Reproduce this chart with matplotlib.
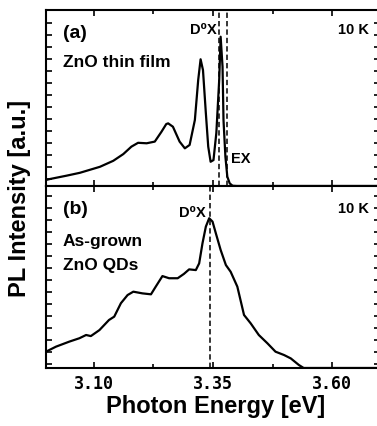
import numpy
import matplotlib
matplotlib.use('Agg')
from matplotlib import pyplot

FONT = ['Liberation Sans', 'DejaVu Sans']
matplotlib.rc('font', family=FONT, weight='bold')

# panel (a): ZnO thin film, 10 K
energy_a = [3.000, 3.008, 3.043, 3.071, 3.113, 3.141, 3.162, 3.179, 3.193, 3.211,
            3.228, 3.242, 3.252, 3.256, 3.266, 3.280, 3.291, 3.301, 3.312, 3.319,
            3.324, 3.329, 3.335, 3.340, 3.345, 3.351, 3.357, 3.363, 3.366, 3.370,
            3.372, 3.376, 3.380, 3.385, 3.391, 3.400, 3.700]
intens_a = [0.25, 0.29, 0.43, 0.55, 0.80, 1.05, 1.33, 1.64, 1.80, 1.78,
            1.85, 2.26, 2.58, 2.61, 2.47, 1.85, 1.57, 1.71, 2.75, 4.42,
            5.28, 4.83, 3.04, 1.64, 1.01, 1.08, 2.21, 4.42, 6.22, 4.97,
            2.75, 1.22, 0.39, 0.11, 0.01, 0.0, 0.0]
lines_a = [3.362, 3.379]   # D0X, EX

# panel (b): as-grown ZnO QDs, 10 K
energy_b = [3.000, 3.021, 3.049, 3.070, 3.084, 3.094, 3.112, 3.132, 3.143, 3.157,
            3.171, 3.183, 3.202, 3.220, 3.230, 3.244, 3.258, 3.276, 3.289, 3.300,
            3.314, 3.321, 3.328, 3.335, 3.342, 3.349, 3.356, 3.366, 3.377, 3.387,
            3.401, 3.415, 3.429, 3.446, 3.464, 3.481, 3.499, 3.513, 3.530, 3.540,
            3.700]
intens_b = [0.68, 0.89, 1.10, 1.24, 1.375, 1.33, 1.58, 2.00, 2.14, 2.70,
            3.04, 3.18, 3.11, 3.07, 3.39, 3.83, 3.74, 3.74, 3.92, 4.11,
            4.08, 4.36, 5.20, 5.89, 6.24, 6.10, 5.61, 4.92, 4.29, 4.01,
            3.39, 2.21, 1.86, 1.375, 1.03, 0.68, 0.54, 0.40, 0.125, 0.0,
            0.0]
lines_b = [3.343]          # D0X

xticks = [3.10, 3.35, 3.60]
xtick_labels = ['3.10', '3.35', '3.60']
xminor = [3.225, 3.475]

W, H = 377, 426


def fpos(x, y):
    # pixel position -> figure fraction
    return x / W, 1 - y / H


def style_axis(ax, ymax, yoff, labels):
    ax.set_xlim(3.0, 3.7)
    ax.set_ylim(0, ymax)
    ax.set_xticks(xticks)
    ax.set_xticklabels(xtick_labels)
    ax.set_xticks(xminor, minor=True)
    ax.set_yticks(numpy.arange(yoff, ymax - 0.3, 0.5))
    ax.tick_params(which='both', direction='in', top=True, right=True,
                   width=1.2, labelleft=False, labelbottom=labels)
    ax.tick_params(which='major', length=4.0, pad=5)
    ax.tick_params(which='minor', length=3.0)
    for s in ax.spines.values():
        s.set_linewidth(1.5)
    for lab in ax.get_xticklabels():
        lab.set_family('DejaVu Sans Mono')
        lab.set_fontweight('bold')
        lab.set_fontsize(12)


fig = pyplot.figure(figsize=(W / 100.0, H / 100.0), dpi=100)

x0 = 46 / W
wid = 334 / W
ax_a = fig.add_axes([x0, 1 - 186 / H, wid, 176 / H])
ax_b = fig.add_axes([x0, 1 - 368 / H, wid, 182 / H])

ax_a.plot(energy_a, intens_a, color='black', lw=1.6)
for e in lines_a:
    ax_a.axvline(e, color='black', lw=1.1, ls=(0, (3.5, 2.0)))
style_axis(ax_a, 176 / 24.0, 0.3, False)

ax_b.plot(energy_b, intens_b, color='black', lw=1.6)
for e in lines_b:
    ax_b.axvline(e, color='black', lw=1.1, ls=(0, (3.5, 2.0)))
style_axis(ax_b, 182 / 24.0, 0.15, True)

# annotations
fig.text(*fpos(63, 38), '(a)', fontsize=14, va='baseline')
fig.text(*fpos(63, 67), 'ZnO thin film', fontsize=12.5, va='baseline')
fig.text(*fpos(217, 34), 'D\u2070X', fontsize=10.5, va='baseline', ha='right')
fig.text(*fpos(231, 163), 'EX', fontsize=10.5, va='baseline')
fig.text(*fpos(369, 34), '10 K', fontsize=10.5, va='baseline', ha='right')

fig.text(*fpos(63, 214), '(b)', fontsize=14, va='baseline')
fig.text(*fpos(63, 246), 'As-grown', fontsize=12.5, va='baseline')
fig.text(*fpos(63, 270), 'ZnO QDs', fontsize=12.5, va='baseline')
fig.text(*fpos(206, 217), 'D\u2070X', fontsize=10.5, va='baseline', ha='right')
fig.text(*fpos(369, 213), '10 K', fontsize=10.5, va='baseline', ha='right')

fig.text(*fpos(216, 413), 'Photon Energy [eV]', fontsize=17, ha='center', va='baseline')
fig.text(*fpos(20, 198), 'PL Intensity [a.u.]', fontsize=17, ha='center', va='center',
         rotation=90)

fig.savefig('out.png', dpi=100)
